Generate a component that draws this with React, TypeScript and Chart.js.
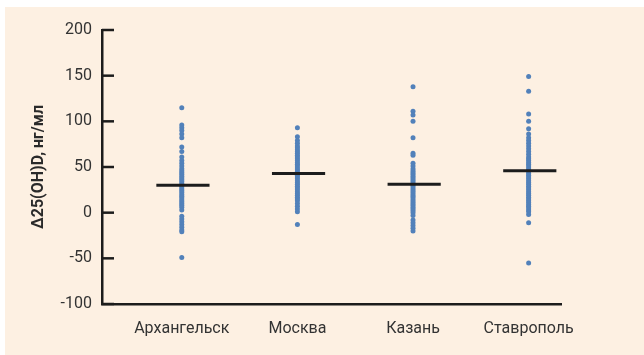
import { useEffect, useRef } from "react";
import { Chart, registerables } from "chart.js";

Chart.register(...registerables);

// Cities along the x axis
const cities = ["Архангельск", "Москва", "Казань", "Ставрополь"];

// Individual changes of 25(OH)D, ng/ml, per city
const arkhangelsk = [
  115, 96, 93, 90, 86, 82, 72, 67, 61, 57, 54, 51, 48, 46, 44, 42, 40, 38, 36,
  34, 32, 30, 28, 26, 24, 22, 20, 18, 16, 14, 12, 10, 8, 6, 3, -4, -7, -10,
  -13, -16, -19, -21, -49,
];
const moscow = [
  93, 83, 79, 76, 73, 71, 69, 67, 65, 63, 61, 59, 57, 55, 53, 51, 49, 47, 45,
  43, 41, 39, 37, 35, 33, 31, 29, 27, 25, 23, 21, 19, 17, 15, 13, 10, 7, 4, 1,
  -13,
];
const kazan = [
  138, 111, 107, 100, 82, 65, 63, 54, 51, 48, 46, 44, 42, 40, 38, 36, 34, 32,
  30, 28, 26, 24, 22, 20, 18, 16, 14, 12, 10, 8, 6, 4, 2, 0, -3, -8, -11, -14,
  -17, -20,
];
const stavropol = [
  149, 133, 108, 100, 92, 86, 82, 79, 76, 73, 70, 67, 64, 61, 59, 57, 55, 53,
  51, 49, 47, 45, 43, 41, 39, 37, 35, 33, 31, 29, 27, 25, 23, 21, 19, 17, 15,
  13, 11, 9, 7, 5, 3, 1, -2, -11, -55,
];

// Group means (horizontal bars)
const means = [30, 43, 31, 46];

// Y axis
const yMin = -100;
const yMax = 200;
const yStep = 50;
const yTitle = "Δ25(OH)D, нг/мл";

const groups = [arkhangelsk, moscow, kazan, stavropol];

const FONT = "Roboto, 'Noto Sans', sans-serif";
const DOT = "#5281ba";
const INK = "#1c1c1c";

// Short tick marks pointing into the plot from the y axis
const innerTicks = {
  id: "innerTicks",
  afterDraw(chart: any) {
    const { ctx, chartArea, scales } = chart;
    const y = scales.y;
    ctx.save();
    ctx.strokeStyle = INK;
    ctx.lineWidth = 2.5;
    y.ticks.forEach((t: any) => {
      const py = y.getPixelForValue(t.value);
      ctx.beginPath();
      ctx.moveTo(chartArea.left, py);
      ctx.lineTo(chartArea.left + 12, py);
      ctx.stroke();
    });
    ctx.restore();
  },
};

export default function App() {
  const ref = useRef<HTMLCanvasElement>(null);

  useEffect(() => {
    if (!ref.current) return;

    const meanSets = means.map((m, i) => ({
      data: [
        { x: i + 1 - 0.22, y: m },
        { x: i + 1 + 0.24, y: m },
      ],
      showLine: true,
      borderColor: INK,
      borderWidth: 3,
      pointRadius: 0,
    }));

    const dotSets = groups.map((vals, i) => ({
      data: vals.map((v) => ({ x: i + 1, y: v })),
      pointRadius: 2.5,
      pointBackgroundColor: DOT,
      pointBorderWidth: 0,
      showLine: false,
    }));

    const chart = new Chart(ref.current, {
      type: "scatter",
      data: { datasets: [...meanSets, ...dotSets] as any },
      options: {
        animation: false,
        responsive: false,
        layout: { padding: { left: 0, top: 30, right: 83, bottom: 0 } },
        plugins: {
          legend: { display: false },
          tooltip: { enabled: false },
        },
        scales: {
          x: {
            type: "linear",
            min: 0.31,
            max: 4.28,
            afterBuildTicks: (scale: any) => {
              scale.ticks = cities.map((_, i) => ({ value: i + 1 }));
            },
            afterFit: (scale: any) => {
              scale.height = 51;
            },
            grid: { display: false, drawTicks: false },
            border: { display: true, color: INK, width: 2.5 },
            ticks: {
              autoSkip: false,
              maxRotation: 0,
              padding: 15,
              color: "#333",
              font: { family: FONT, size: 16 },
              callback: (v: any) => cities[Math.round(v) - 1] ?? "",
            },
          },
          y: {
            min: yMin,
            max: yMax,
            afterFit: (scale: any) => {
              scale.width = 102;
            },
            grid: { display: false, drawTicks: false },
            border: { display: true, color: INK, width: 2.5 },
            ticks: {
              stepSize: yStep,
              padding: 10,
              color: "#333",
              font: { family: FONT, size: 16 },
            },
            title: {
              display: true,
              text: yTitle,
              color: "#2a2a2a",
              font: { family: FONT, size: 16, weight: "bold" },
              padding: { top: 29, bottom: 0 },
            },
          },
        },
      },
      plugins: [innerTicks],
    });

    return () => chart.destroy();
  }, []);

  return (
    <div
      style={{
        position: "absolute",
        left: 0,
        top: 0,
        width: 644,
        height: 355,
        background: "#ffffff",
      }}
    >
      <div
        style={{
          position: "absolute",
          left: 5,
          top: 7,
          right: 0,
          bottom: 0,
          background: "#fdf0e2",
        }}
      />
      <canvas
        ref={ref}
        width={644}
        height={355}
        style={{ position: "absolute", left: 0, top: 0, display: "block" }}
      />
    </div>
  );
}
